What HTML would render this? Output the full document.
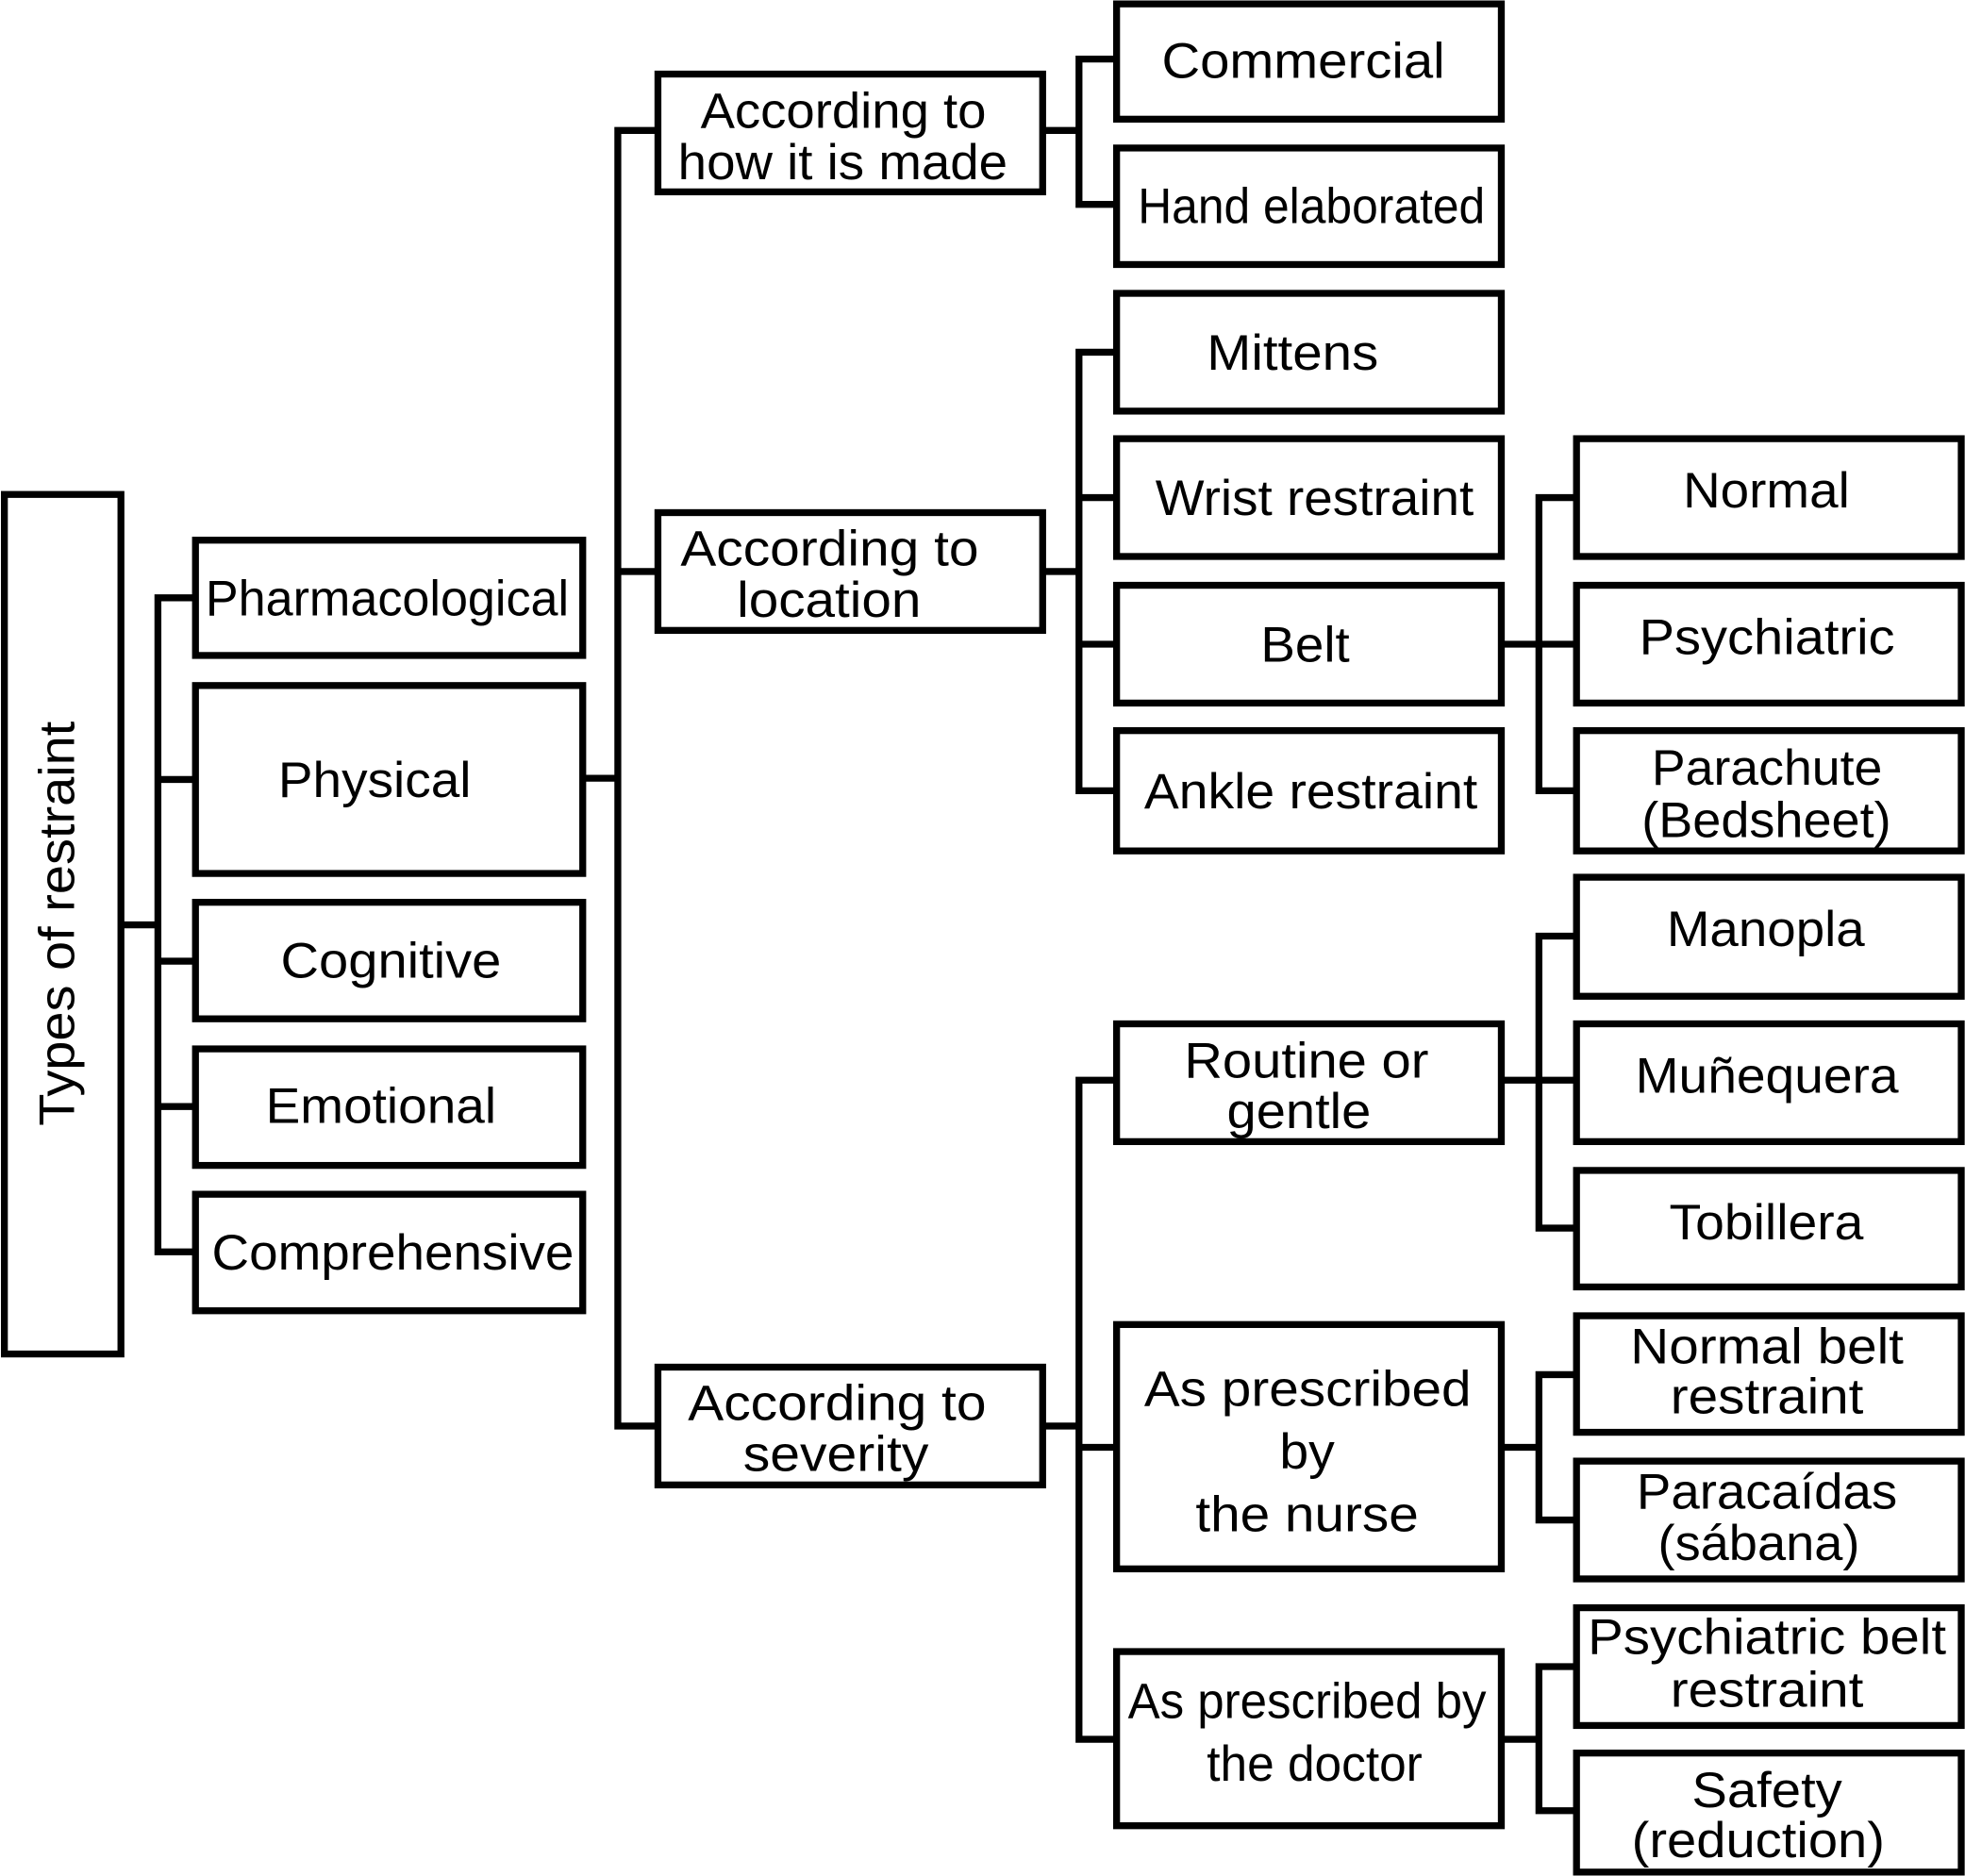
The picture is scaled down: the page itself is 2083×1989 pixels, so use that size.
<!DOCTYPE html>
<html><head><meta charset="utf-8"><style>html,body{margin:0;padding:0;background:#fff}svg{display:block}</style></head><body>
<svg width="2083" height="1989" viewBox="0 0 1568 1497" xmlns="http://www.w3.org/2000/svg">
<g fill="none" stroke="#000" stroke-width="5.5" stroke-linejoin="miter">
<rect x="3.5" y="394.5" width="93" height="686"/>
<rect x="156" y="431" width="309" height="92"/>
<rect x="156" y="547" width="309" height="150"/>
<rect x="156" y="720" width="309" height="93"/>
<rect x="156" y="837" width="309" height="93"/>
<rect x="156" y="953" width="309" height="93"/>
<rect x="525" y="59" width="307" height="94"/>
<rect x="525" y="409" width="307" height="94"/>
<rect x="525" y="1091" width="307" height="94"/>
<rect x="891" y="3" width="307" height="92"/>
<rect x="891" y="118" width="307" height="93"/>
<rect x="891" y="234" width="307" height="94"/>
<rect x="891" y="350" width="307" height="94"/>
<rect x="891" y="467" width="307" height="94"/>
<rect x="891" y="583" width="307" height="96"/>
<rect x="891" y="817" width="307" height="94"/>
<rect x="891" y="1057" width="307" height="195"/>
<rect x="891" y="1318" width="307" height="139"/>
<rect x="1258" y="350" width="307" height="94"/>
<rect x="1258" y="467" width="307" height="94"/>
<rect x="1258" y="583" width="307" height="96"/>
<rect x="1258" y="700" width="307" height="95"/>
<rect x="1258" y="817" width="307" height="94"/>
<rect x="1258" y="934" width="307" height="93"/>
<rect x="1258" y="1050" width="307" height="93"/>
<rect x="1258" y="1166" width="307" height="94"/>
<rect x="1258" y="1283" width="307" height="94"/>
<rect x="1258" y="1399" width="307" height="95"/>
<path d="M97 738H126M156 477H126V999H156M126 622H156M126 767H156M126 883H156"/>
<path d="M465 621H493M525 104H493V1138H525M493 456H525"/>
<path d="M832 104H861M891 47H861V163H891"/>
<path d="M832 456H861M891 281H861V631H891M861 397H891M861 514H891"/>
<path d="M1198 514H1228M1258 397H1228V631H1258M1228 514H1258"/>
<path d="M832 1138H861M891 862H861V1388H891M861 1155H891"/>
<path d="M1198 862H1228M1258 747H1228V980H1258M1228 862H1258"/>
<path d="M1198 1155H1228M1258 1097H1228V1213H1258"/>
<path d="M1198 1388H1228M1258 1330H1228V1445H1258"/>
</g>
<g font-family="Liberation Sans, Arial, sans-serif" font-size="40" fill="#000" lengthAdjust="spacingAndGlyphs">
<text x="45" y="737" transform="rotate(-90 45 737)" text-anchor="middle" dy="14" textLength="323" lengthAdjust="spacingAndGlyphs">Types of restraint</text>
<text x="164" y="491" textLength="290" lengthAdjust="spacingAndGlyphs">Pharmacological</text>
<text x="222" y="636" textLength="154" lengthAdjust="spacingAndGlyphs">Physical</text>
<text x="224" y="780" textLength="176" lengthAdjust="spacingAndGlyphs">Cognitive</text>
<text x="212" y="896" textLength="184" lengthAdjust="spacingAndGlyphs">Emotional</text>
<text x="169" y="1013" textLength="289" lengthAdjust="spacingAndGlyphs">Comprehensive</text>
<text x="559" y="102" textLength="228" lengthAdjust="spacingAndGlyphs">According to</text>
<text x="541" y="143" textLength="263" lengthAdjust="spacingAndGlyphs">how it is made</text>
<text x="543" y="451" textLength="238" lengthAdjust="spacingAndGlyphs">According to</text>
<text x="588" y="492" textLength="147" lengthAdjust="spacingAndGlyphs">location</text>
<text x="549" y="1133" textLength="238" lengthAdjust="spacingAndGlyphs">According to</text>
<text x="593" y="1174" textLength="148" lengthAdjust="spacingAndGlyphs">severity</text>
<text x="927" y="62" textLength="226" lengthAdjust="spacingAndGlyphs">Commercial</text>
<text x="908" y="178" textLength="277" lengthAdjust="spacingAndGlyphs">Hand elaborated</text>
<text x="963" y="295" textLength="137" lengthAdjust="spacingAndGlyphs">Mittens</text>
<text x="922" y="411" textLength="254" lengthAdjust="spacingAndGlyphs">Wrist restraint</text>
<text x="1006" y="528" textLength="71" lengthAdjust="spacingAndGlyphs">Belt</text>
<text x="913" y="645" textLength="266" lengthAdjust="spacingAndGlyphs">Ankle restraint</text>
<text x="1343" y="405" textLength="133" lengthAdjust="spacingAndGlyphs">Normal</text>
<text x="1308" y="522" textLength="204" lengthAdjust="spacingAndGlyphs">Psychiatric</text>
<text x="1318" y="626" textLength="184" lengthAdjust="spacingAndGlyphs">Parachute</text>
<text x="1310" y="668" textLength="199" lengthAdjust="spacingAndGlyphs">(Bedsheet)</text>
<text x="1330" y="755" textLength="158" lengthAdjust="spacingAndGlyphs">Manopla</text>
<text x="1305" y="872" textLength="210" lengthAdjust="spacingAndGlyphs">Muñequera</text>
<text x="1332" y="989" textLength="155" lengthAdjust="spacingAndGlyphs">Tobillera</text>
<text x="1301" y="1088" textLength="218" lengthAdjust="spacingAndGlyphs">Normal belt</text>
<text x="1333" y="1128" textLength="154" lengthAdjust="spacingAndGlyphs">restraint</text>
<text x="1306" y="1204" textLength="208" lengthAdjust="spacingAndGlyphs">Paracaídas</text>
<text x="1323" y="1245" textLength="161" lengthAdjust="spacingAndGlyphs">(sábana)</text>
<text x="1267" y="1320" textLength="286" lengthAdjust="spacingAndGlyphs">Psychiatric belt</text>
<text x="1333" y="1362" textLength="154" lengthAdjust="spacingAndGlyphs">restraint</text>
<text x="1350" y="1442" textLength="120" lengthAdjust="spacingAndGlyphs">Safety</text>
<text x="1302" y="1482" textLength="202" lengthAdjust="spacingAndGlyphs">(reduction)</text>
<text x="945" y="860" textLength="195" lengthAdjust="spacingAndGlyphs">Routine or</text>
<text x="979" y="900" textLength="115" lengthAdjust="spacingAndGlyphs">gentle</text>
<text x="913" y="1122" textLength="261" lengthAdjust="spacingAndGlyphs">As prescribed</text>
<text x="1021" y="1172" textLength="44" lengthAdjust="spacingAndGlyphs">by</text>
<text x="954" y="1222" textLength="178" lengthAdjust="spacingAndGlyphs">the nurse</text>
<text x="900" y="1371" textLength="286" lengthAdjust="spacingAndGlyphs">As prescribed by</text>
<text x="963" y="1421" textLength="172" lengthAdjust="spacingAndGlyphs">the doctor</text>
</g>
</svg>
</body></html>
